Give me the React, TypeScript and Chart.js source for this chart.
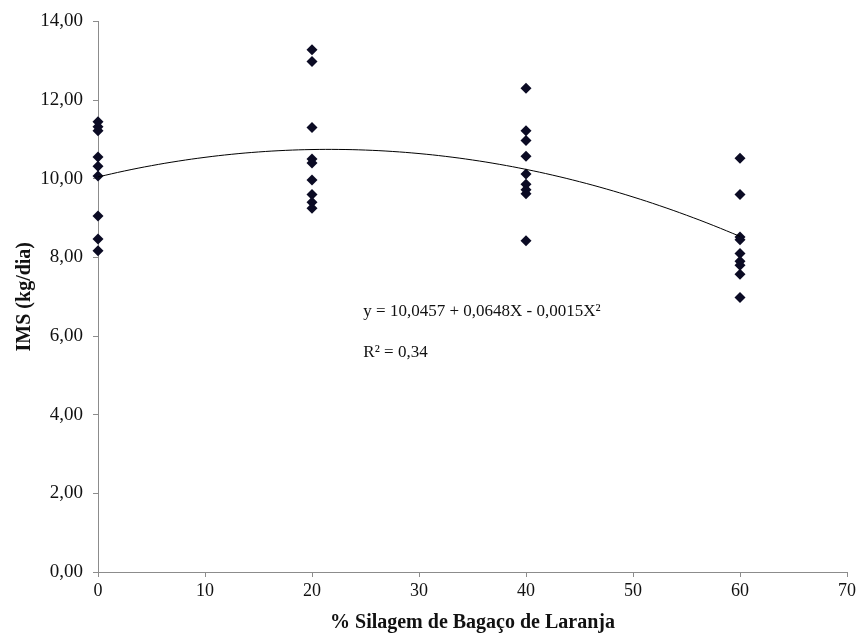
import React, { useEffect, useRef } from "react";
import { Chart, registerables } from "chart.js";

Chart.register(...registerables);

// Data
const xLevels = [0, 20, 40, 60];
const imsAt0 = [11.45, 11.32, 11.22, 10.55, 10.32, 10.07, 9.05, 8.47, 8.17];
const imsAt20 = [13.28, 12.98, 11.3, 10.5, 10.4, 9.97, 9.6, 9.4, 9.25];
const imsAt40 = [12.3, 11.22, 10.97, 10.57, 10.12, 9.86, 9.72, 9.62, 8.42];
const imsAt60 = [10.52, 9.6, 8.52, 8.45, 8.1, 7.9, 7.8, 7.57, 6.98];
const trendCoefficients = [10.0457, 0.0648, -0.0015];
const trendXs = [0, 2.5, 5, 7.5, 10, 12.5, 15, 17.5, 20, 22.5, 25, 27.5, 30, 32.5, 35, 37.5, 40, 42.5, 45, 47.5, 50, 52.5, 55, 57.5, 60];
const equationText = "y = 10,0457 + 0,0648X - 0,0015X²";
const r2Text = "R² = 0,34";
const xTitle = "% Silagem de Bagaço de Laranja";
const yTitle = "IMS (kg/dia)";

const groups = [imsAt0, imsAt20, imsAt40, imsAt60];

export default function App() {
  const ref = useRef<HTMLCanvasElement | null>(null);

  useEffect(() => {
    if (!ref.current) return;
    const points: { x: number; y: number }[] = [];
    groups.forEach((g, i) => g.forEach((v) => points.push({ x: xLevels[i], y: v })));
    const trend = trendXs.map((x) => ({
      x,
      y: trendCoefficients[0] + trendCoefficients[1] * x + trendCoefficients[2] * x * x,
    }));

    const annot = {
      id: "eqText",
      afterDatasetsDraw(chart: any) {
        const { ctx, scales } = chart;
        ctx.save();
        ctx.fillStyle = "#111";
        ctx.font = "17px 'Liberation Serif'";
        ctx.textBaseline = "middle";
        ctx.textAlign = "left";
        const x0 = scales.x.getPixelForValue(24.8);
        ctx.fillText(equationText, x0, scales.y.getPixelForValue(6.62));
        ctx.fillText(r2Text, x0, scales.y.getPixelForValue(5.58));
        ctx.restore();
      },
    };

    const chart = new Chart(ref.current, {
      type: "scatter",
      data: {
        datasets: [
          {
            type: "line",
            data: trend,
            borderColor: "#000",
            borderWidth: 1,
            pointRadius: 0,
            tension: 0.4,
            fill: false,
          } as any,
          {
            data: points,
            pointStyle: "rectRot",
            pointRadius: 5.5,
            backgroundColor: "#0b0b24",
            borderColor: "#0b0b24",
            borderWidth: 0,
            clip: false,
          } as any,
        ],
      },
      options: {
        animation: false,
        responsive: false,
        layout: { padding: { top: 17, right: 15, left: 0, bottom: 0 } },
        plugins: { legend: { display: false }, tooltip: { enabled: false } },
        scales: {
          x: {
            type: "linear",
            min: 0,
            max: 70,
            afterFit: (s: any) => {
              s.height = 63;
            },
            ticks: {
              stepSize: 10,
              color: "#111",
              font: { family: "'Liberation Serif'", size: 18 },
              padding: 3,
            },
            grid: { drawOnChartArea: false, drawTicks: true, tickLength: 5, color: "#8c8c8c" },
            border: { color: "#8c8c8c", width: 1 },
            title: {
              display: true,
              text: xTitle,
              color: "#111",
              font: { family: "'Liberation Serif'", size: 20, weight: "bold" },
              padding: { top: 4, bottom: 0 },
            },
          },
          y: {
            type: "linear",
            min: 0,
            max: 14,
            afterFit: (s: any) => {
              s.width = 98;
            },
            ticks: {
              stepSize: 2,
              color: "#111",
              font: { family: "'Liberation Serif'", size: 19 },
              padding: 10,
              callback: (v: any) => Number(v).toFixed(2).replace(".", ","),
            },
            grid: { drawOnChartArea: false, drawTicks: true, tickLength: 5, color: "#8c8c8c" },
            border: { color: "#8c8c8c", width: 1 },
            title: {
              display: true,
              text: yTitle,
              color: "#111",
              font: { family: "'Liberation Serif'", size: 20, weight: "bold" },
              padding: { top: 13, bottom: 0 },
            },
          },
        },
      },
      plugins: [annot],
    });
    return () => chart.destroy();
  }, []);

  return (
    <div style={{ position: "fixed", left: 0, top: 0, width: 862, height: 635, background: "#fff" }}>
      <canvas ref={ref} width={862} height={635} style={{ display: "block" }} />
    </div>
  );
}
